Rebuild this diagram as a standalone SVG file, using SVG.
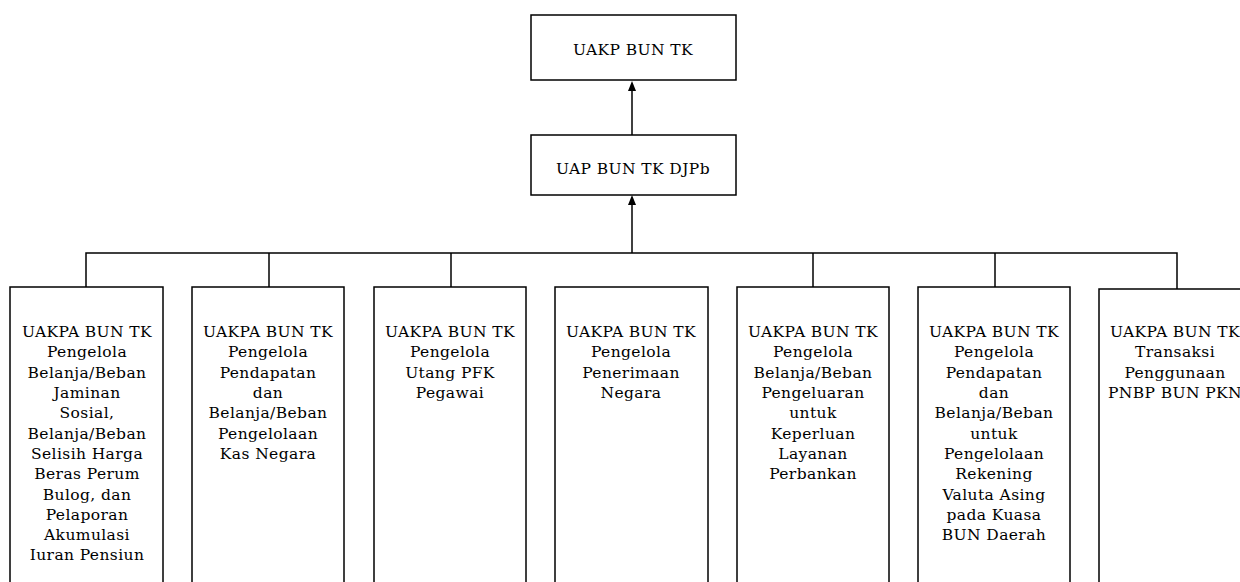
<svg xmlns="http://www.w3.org/2000/svg" width="1240" height="582" viewBox="0 0 1240 582">
<style>
.box{fill:#fff;stroke:#000;stroke-width:1.5}
.ln{fill:none;stroke:#000;stroke-width:1.5}
.ah{fill:#000}
text{font-family:"DejaVu Serif","Liberation Serif",serif;font-size:15.5px;fill:#000;text-anchor:middle;letter-spacing:0.4px}
</style>
<g id="connectors">
<line class="ln" x1="632" y1="135" x2="632" y2="88"/>
<path class="ah" d="M632 81 L628 91 L636 91 Z"/>
<line class="ln" x1="632" y1="253" x2="632" y2="202"/>
<path class="ah" d="M632 195 L628 205 L636 205 Z"/>
<path class="ln" d="M86 287 V253 H1177 V289"/>
<line class="ln" x1="269" y1="253" x2="269" y2="287"/>
<line class="ln" x1="451" y1="253" x2="451" y2="287"/>
<line class="ln" x1="813" y1="253" x2="813" y2="287"/>
<line class="ln" x1="995" y1="253" x2="995" y2="287"/>
</g>
<g id="n-uakp">
<rect class="box" x="531" y="15" width="205" height="65"/>
<text x="633" y="55">UAKP BUN TK</text>
</g>
<g id="n-uap">
<rect class="box" x="531" y="135" width="205" height="60"/>
<text x="633" y="174">UAP BUN TK DJPb</text>
</g>
<g id="n-c1">
<rect class="box" x="10" y="287" width="153" height="320"/>
<text x="87" y="337">UAKPA BUN TK</text>
<text x="87" y="357">Pengelola</text>
<text x="87" y="377.5">Belanja/Beban</text>
<text x="87" y="398">Jaminan</text>
<text x="87" y="418">Sosial,</text>
<text x="87" y="438.5">Belanja/Beban</text>
<text x="87" y="459">Selisih Harga</text>
<text x="87" y="479">Beras Perum</text>
<text x="87" y="499.5">Bulog, dan</text>
<text x="87" y="520">Pelaporan</text>
<text x="87" y="540">Akumulasi</text>
<text x="87" y="560">Iuran Pensiun</text>
</g>
<g id="n-c2">
<rect class="box" x="192" y="287" width="152" height="320"/>
<text x="268" y="337">UAKPA BUN TK</text>
<text x="268" y="357">Pengelola</text>
<text x="268" y="377.5">Pendapatan</text>
<text x="268" y="398">dan</text>
<text x="268" y="418">Belanja/Beban</text>
<text x="268" y="438.5">Pengelolaan</text>
<text x="268" y="459">Kas Negara</text>
</g>
<g id="n-c3">
<rect class="box" x="374" y="287" width="152" height="320"/>
<text x="450" y="337">UAKPA BUN TK</text>
<text x="450" y="357">Pengelola</text>
<text x="450" y="377.5">Utang PFK</text>
<text x="450" y="398">Pegawai</text>
</g>
<g id="n-c4">
<rect class="box" x="555" y="287" width="153" height="320"/>
<text x="631" y="337">UAKPA BUN TK</text>
<text x="631" y="357">Pengelola</text>
<text x="631" y="377.5">Penerimaan</text>
<text x="631" y="398">Negara</text>
</g>
<g id="n-c5">
<rect class="box" x="737" y="287" width="152" height="320"/>
<text x="813" y="337">UAKPA BUN TK</text>
<text x="813" y="357">Pengelola</text>
<text x="813" y="377.5">Belanja/Beban</text>
<text x="813" y="398">Pengeluaran</text>
<text x="813" y="418">untuk</text>
<text x="813" y="438.5">Keperluan</text>
<text x="813" y="459">Layanan</text>
<text x="813" y="479">Perbankan</text>
</g>
<g id="n-c6">
<rect class="box" x="918" y="287" width="152" height="320"/>
<text x="994" y="337">UAKPA BUN TK</text>
<text x="994" y="357">Pengelola</text>
<text x="994" y="377.5">Pendapatan</text>
<text x="994" y="398">dan</text>
<text x="994" y="418">Belanja/Beban</text>
<text x="994" y="438.5">untuk</text>
<text x="994" y="459">Pengelolaan</text>
<text x="994" y="479">Rekening</text>
<text x="994" y="499.5">Valuta Asing</text>
<text x="994" y="520">pada Kuasa</text>
<text x="994" y="540">BUN Daerah</text>
</g>
<g id="n-c7">
<rect class="box" x="1099" y="289" width="160" height="320"/>
<text x="1175" y="337">UAKPA BUN TK</text>
<text x="1175" y="357">Transaksi</text>
<text x="1175" y="377.5">Penggunaan</text>
<text x="1175" y="398">PNBP BUN PKN</text>
</g>
</svg>
